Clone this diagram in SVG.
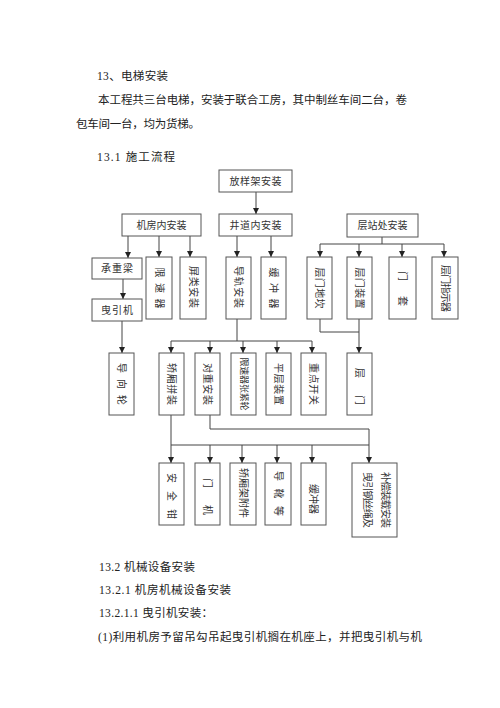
<svg xmlns="http://www.w3.org/2000/svg" width="500" height="708" viewBox="0 0 500 708">
<defs>
<style>
.t{font-family:"Liberation Serif","Noto Sans CJK SC",serif;font-size:11.5px;fill:#222}
.b{fill:#fff;stroke:#555;stroke-width:1}
.l{font-family:"Liberation Serif","Noto Sans CJK SC",serif;font-size:10px;fill:#333;text-anchor:middle;dominant-baseline:central}
.c{stroke:#444;stroke-width:1;fill:none}
.a{stroke:#444;stroke-width:1;fill:none;marker-end:url(#ah)}
</style>
<marker id="ah" viewBox="0 0 6 6" refX="6" refY="3" markerWidth="6" markerHeight="6" markerUnits="userSpaceOnUse" orient="auto">
<path d="M0,0 L6,3 L0,6 Z" fill="#222"/>
</marker>
</defs>
<rect width="500" height="708" fill="#fff"/>

<g id="text-body">
<text class="t" x="97" y="80" textLength="71" lengthAdjust="spacing">13、电梯安装</text>
<text class="t" x="98" y="104" textLength="309" lengthAdjust="spacing">本工程共三台电梯，安装于联合工房，其中制丝车间二台，卷</text>
<text class="t" x="76" y="128" textLength="124" lengthAdjust="spacing">包车间一台，均为货梯。</text>
<text class="t" x="97" y="161" textLength="78" lengthAdjust="spacing">13.1 施工流程</text>
<text class="t" x="99" y="571" textLength="96" lengthAdjust="spacing">13.2 机械设备安装</text>
<text class="t" x="99" y="594" textLength="132" lengthAdjust="spacing">13.2.1 机房机械设备安装</text>
<text class="t" x="99" y="617" textLength="114" lengthAdjust="spacing">13.2.1.1 曳引机安装：</text>
<text class="t" x="98" y="641" textLength="324" lengthAdjust="spacing">(1)利用机房予留吊勾吊起曳引机搁在机座上，并把曳引机与机</text>
</g>

<g id="connectors">
<line class="a" x1="256" y1="192" x2="256" y2="214"/>
<line class="a" x1="128" y1="236" x2="128" y2="258"/>
<line class="a" x1="159" y1="236" x2="159" y2="257"/>
<line class="a" x1="190" y1="236" x2="190" y2="257"/>
<line class="a" x1="237" y1="236" x2="237" y2="257"/>
<line class="a" x1="271" y1="236" x2="271" y2="257"/>
<line class="c" x1="382" y1="237" x2="382" y2="244"/>
<line class="c" x1="320" y1="244" x2="444" y2="244"/>
<line class="a" x1="320" y1="244" x2="320" y2="257"/>
<line class="a" x1="359" y1="244" x2="359" y2="257"/>
<line class="a" x1="402" y1="244" x2="402" y2="257"/>
<line class="a" x1="444" y1="244" x2="444" y2="257"/>
<line class="a" x1="123" y1="279" x2="123" y2="299"/>
<line class="a" x1="122" y1="321" x2="122" y2="353"/>
<line class="c" x1="237" y1="319" x2="237" y2="341"/>
<line class="c" x1="171" y1="341" x2="312" y2="341"/>
<line class="a" x1="171" y1="341" x2="171" y2="353"/>
<line class="a" x1="210" y1="341" x2="210" y2="353"/>
<line class="a" x1="243" y1="341" x2="243" y2="353"/>
<line class="a" x1="277" y1="341" x2="277" y2="353"/>
<line class="a" x1="312" y1="341" x2="312" y2="353"/>
<polyline class="c" points="320,319 320,332 359,332"/>
<line class="a" x1="359" y1="319" x2="359" y2="353"/>
<polyline class="c" points="210,415 210,429 369,429"/>
<line class="c" x1="171" y1="415" x2="171" y2="445"/>
<line class="c" x1="171" y1="445" x2="369" y2="445"/>
<line class="a" x1="369" y1="429" x2="369" y2="463"/>
<line class="a" x1="171" y1="445" x2="171" y2="463"/>
<line class="a" x1="210" y1="445" x2="210" y2="463"/>
<line class="a" x1="242" y1="445" x2="242" y2="463"/>
<line class="a" x1="277" y1="445" x2="277" y2="463"/>
<line class="a" x1="312" y1="445" x2="312" y2="463"/>
</g>

<g id="n-fangyangjia"><rect class="b" x="219" y="170" width="73" height="22"/><text class="l" x="255.5" y="181" textLength="52" lengthAdjust="spacing">放样架安装</text></g>
<g id="n-jifang"><rect class="b" x="122" y="214" width="79" height="22"/><text class="l" x="161.5" y="225" textLength="50" lengthAdjust="spacing">机房内安装</text></g>
<g id="n-jingdao"><rect class="b" x="219" y="214" width="73" height="22"/><text class="l" x="255.5" y="225" textLength="52" lengthAdjust="spacing">井道内安装</text></g>
<g id="n-cengzhan"><rect class="b" x="347" y="214" width="71" height="23"/><text class="l" x="382.5" y="225.5" textLength="50" lengthAdjust="spacing">层站处安装</text></g>

<g id="n-chengzhongliang"><rect class="b" x="92" y="258" width="50" height="21"/><text class="l" x="117" y="268.5" textLength="32" lengthAdjust="spacing">承重梁</text></g>
<g id="n-yeyinji"><rect class="b" x="92" y="299" width="50" height="22"/><text class="l" x="117" y="310" textLength="32" lengthAdjust="spacing">曳引机</text></g>
<g id="n-xiansuqi"><rect class="b" x="146" y="257" width="26" height="62"/><text class="l" transform="translate(159,288) rotate(90)" textLength="41" lengthAdjust="spacing">限速器</text></g>
<g id="n-pinglei"><rect class="b" x="180" y="257" width="26" height="62"/><text class="l" transform="translate(193,287) rotate(90)" textLength="42" lengthAdjust="spacing">屏类安装</text></g>
<g id="n-daogui"><rect class="b" x="226" y="257" width="25" height="62"/><text class="l" transform="translate(238.5,287) rotate(90)" textLength="42" lengthAdjust="spacing">导轨安装</text></g>
<g id="n-huanchong1"><rect class="b" x="261" y="257" width="25" height="62"/><text class="l" transform="translate(273.5,288) rotate(90)" textLength="41" lengthAdjust="spacing">缓冲器</text></g>
<g id="n-dikan"><rect class="b" x="307" y="257" width="25" height="62"/><text class="l" transform="translate(319.5,288) rotate(90)" textLength="41" lengthAdjust="spacing">层门地坎</text></g>
<g id="n-zhuangzhi"><rect class="b" x="347" y="257" width="25" height="62"/><text class="l" transform="translate(359.5,288) rotate(90)" textLength="41" lengthAdjust="spacing">层门装置</text></g>
<g id="n-mentao"><rect class="b" x="389" y="257" width="27" height="62"/><text class="l" transform="translate(402.5,288.5) rotate(90)" textLength="35" lengthAdjust="spacing">门套</text></g>
<g id="n-zhishiqi"><rect class="b" x="432" y="257" width="26" height="62"/><text class="l" transform="translate(445,288.5) rotate(90)" textLength="47" lengthAdjust="spacing">层门指示器</text></g>

<g id="n-daoxianglun"><rect class="b" x="109" y="353" width="25" height="62"/><text class="l" transform="translate(121.5,384) rotate(90)" textLength="42" lengthAdjust="spacing">导向轮</text></g>
<g id="n-jiaoxiang"><rect class="b" x="159" y="353" width="25" height="62"/><text class="l" transform="translate(171.5,384) rotate(90)" textLength="42" lengthAdjust="spacing">轿厢拼装</text></g>
<g id="n-duizhong"><rect class="b" x="195" y="353" width="25" height="62"/><text class="l" transform="translate(207.5,384) rotate(90)" textLength="42" lengthAdjust="spacing">对重安装</text></g>
<g id="n-zhangjinlun"><rect class="b" x="231" y="353" width="25" height="62"/><text class="l" transform="translate(243.5,384) rotate(90)" style="font-size:9px" textLength="53" lengthAdjust="spacing">限速器张紧轮</text></g>
<g id="n-pingceng"><rect class="b" x="266" y="353" width="25" height="62"/><text class="l" transform="translate(278.5,384) rotate(90)" textLength="42" lengthAdjust="spacing">平层装置</text></g>
<g id="n-kaiguan"><rect class="b" x="301" y="353" width="25" height="62"/><text class="l" transform="translate(313.5,384) rotate(90)" textLength="42" lengthAdjust="spacing">重点开关</text></g>
<g id="n-cengmen"><rect class="b" x="347" y="353" width="25" height="62"/><text class="l" transform="translate(359.5,386.5) rotate(90)" textLength="37" lengthAdjust="spacing">层门</text></g>

<g id="n-anquanqian"><rect class="b" x="159" y="463" width="25" height="62"/><text class="l" transform="translate(171.5,496) rotate(90)" textLength="46" lengthAdjust="spacing">安全钳</text></g>
<g id="n-menji"><rect class="b" x="195" y="463" width="25" height="62"/><text class="l" transform="translate(207.5,496.5) rotate(90)" textLength="37" lengthAdjust="spacing">门机</text></g>
<g id="n-fujian"><rect class="b" x="230" y="463" width="26" height="62"/><text class="l" transform="translate(243,493) rotate(90)" textLength="50" lengthAdjust="spacing">轿厢架附件</text></g>
<g id="n-daoxue"><rect class="b" x="265" y="463" width="26" height="62"/><text class="l" transform="translate(278,493.5) rotate(90)" textLength="45" lengthAdjust="spacing">导靴等</text></g>
<g id="n-huanchong2"><rect class="b" x="301" y="463" width="25" height="62"/><text class="l" transform="translate(313.5,499) rotate(90)" textLength="30" lengthAdjust="spacing">缓冲器</text></g>
<g id="n-buchang"><rect class="b" x="352" y="463" width="45" height="74"/>
<text class="l" transform="translate(385,500) rotate(90)" textLength="56" lengthAdjust="spacing">补偿装载安装</text>
<text class="l" transform="translate(367,500) rotate(90)" textLength="56" lengthAdjust="spacing">曳引钢丝绳及</text></g>
</svg>
